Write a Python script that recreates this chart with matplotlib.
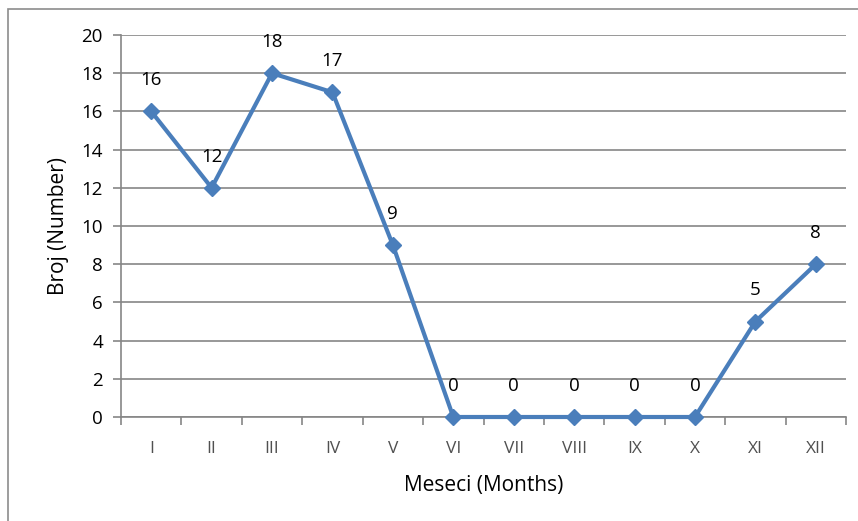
import numpy as np
import matplotlib.pyplot as plt
from matplotlib.patches import Rectangle

# Podaci po mjesecima
meseci = ['I', 'II', 'III', 'IV', 'V', 'VI', 'VII', 'VIII', 'IX', 'X', 'XI', 'XII']
broj = [16, 12, 18, 17, 9, 0, 0, 0, 0, 0, 5, 8]

plt.rcParams['font.family'] = ['Open Sans', 'DejaVu Sans']
siva = '#868686'
plava = '#4a7ebb'

fig = plt.figure(figsize=(8.58, 5.21), dpi=100)
ax = fig.add_axes([121/858, 1 - 417/521, (846 - 121)/858, (417 - 35)/521])

# okvir oko cijelog grafikona
fig.patches.append(Rectangle((8/858, -0.1), 1.0, 1 - 9/521 + 0.1, transform=fig.transFigure,
                             fill=False, edgecolor='#8c8c8c', linewidth=1.2))

x = np.arange(len(meseci))
ax.plot(x, broj, color=plava, lw=3, marker='D', markersize=8.5, zorder=3, clip_on=False)
for xi, v in zip(x, broj):
    ax.annotate(str(v), (xi, v), xytext=(0, 22.5), textcoords='offset points',
                ha='center', va='center', fontsize=13.5, color='black')

ax.set_xlim(-0.5, len(meseci) - 0.5)
ax.set_ylim(0, 20)
ax.set_yticks(range(0, 21, 2))
ax.yaxis.grid(True, color=siva, lw=1.2)
ax.set_axisbelow(True)

ax.set_xticks(x)
ax.set_xticklabels(meseci, fontsize=12.5, color='#505050')
ax.set_xticks(np.arange(-0.5, len(meseci)), minor=True)
ax.tick_params(axis='x', which='major', length=0, pad=17)
ax.tick_params(axis='x', which='minor', length=6, color=siva, width=1.2)
ax.tick_params(axis='y', length=6, color=siva, width=1.2, labelsize=13.5, pad=7)

for s in ['top', 'right']:
    ax.spines[s].set_visible(False)
for s in ['left', 'bottom']:
    ax.spines[s].set_color(siva)
    ax.spines[s].set_linewidth(1.2)

ax.set_xlabel('Meseci (Months)', fontsize=15, labelpad=13)
ax.set_ylabel('Broj (Number)', fontsize=15, labelpad=9)

fig.savefig('out.png', dpi=100)
